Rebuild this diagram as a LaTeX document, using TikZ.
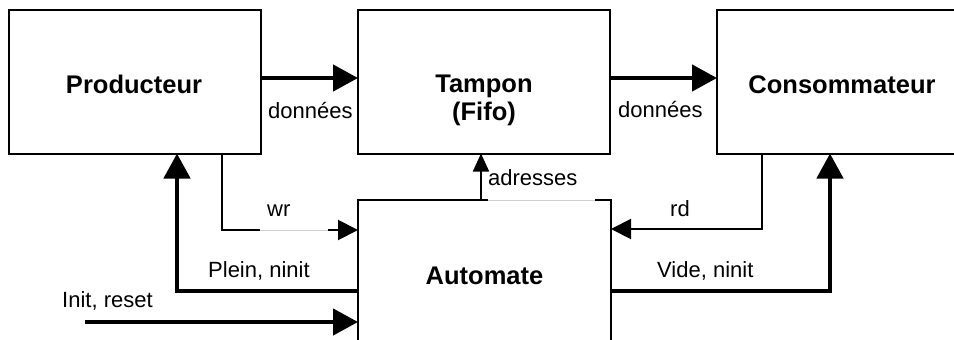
\documentclass[tikz,border=0pt]{standalone}
\usepackage{fontspec}
\setmainfont{Liberation Sans}
\usetikzlibrary{arrows.meta,calc}
\begin{document}
\begin{tikzpicture}[x=1pt,y=-1pt,
  box/.style={draw,line width=2pt,rectangle,inner sep=0pt,outer sep=0pt},
  title/.style={font=\fontsize{25.5}{28}\selectfont\bfseries,inner sep=0pt,anchor=base},
  lbl/.style={font=\fontsize{22}{24}\selectfont,inner sep=0pt,anchor=base west},
  smallarrow/.style={line width=2pt,-{Triangle[length=20pt,width=20pt]}},
  adrarrow/.style={line width=1.8pt,-{Triangle[length=18pt,width=16pt]}},
  bigarrow/.style={line width=4.5pt,-{Triangle[length=25pt,width=26pt]}},
  faded/.style={black!18,line width=1pt},
]
\useasboundingbox (0,0) rectangle (954,340);
\clip (0,0) rectangle (954,340);

% blocks
\node[box,minimum width=252pt,minimum height=144pt] (prod) at (135,81.5) {};
\node[box,minimum width=252pt,minimum height=144pt] (tamp) at (484,81.5) {};
\node[box,minimum width=283pt,minimum height=144pt] (cons) at (858.5,81.5) {};
\node[box,minimum width=253pt,minimum height=180pt] (auto) at (484.5,290) {};

% block titles
\node[title] (prodtxt) at (134,93) {Producteur};
\node[title] (tamptxt) at (484,92.5) {Tampon};
\node[title] (fifotxt) at (484,120) {(Fifo)};
\node[title] (constxt) at (842,93) {Consommateur};
\node[title] (autotxt) at (484.5,284) {Automate};

% data path
\draw[bigarrow] (prod.east |- 0,78) -- (tamp.west |- 0,78);
\draw[bigarrow] (tamp.east |- 0,78) -- (cons.west |- 0,78);

% control signals
\draw[smallarrow] (prod.south -| 222,0) |- (auto.west |- 0,230);
\draw[bigarrow] (auto.west |- 0,291) -| (prod.south -| 177,0);
\coordinate (initsrc) at (85,322);
\draw[bigarrow] (initsrc) -- (auto.west |- 0,322);
\draw[adrarrow] (auto.north -| 481,0) -- (tamp.south -| 481,0);
\draw[smallarrow] (cons.south -| 762,0) |- (auto.east |- 0,229);
\draw[bigarrow] (auto.east |- 0,291) -| (cons.south -| 830,0);

% faded stretches behind the labels
\draw[white,line width=3pt] (260,230) -- (328,230);
\draw[faded] (260,230) -- (328,230);
\draw[white,line width=3pt] (488,200) -- (595,200);
\draw[faded] (488,200) -- (595,200);

% signal labels
\node[lbl] (l1) at (268,118) {données};
\node[lbl] (l2) at (618,117) {données};
\node[lbl] (l3) at (267,216) {wr};
\node[lbl] (l4) at (670,216) {rd};
\node[lbl] (l5) at (488,185) {adresses};
\node[lbl] (l6) at (208,277) {Plein, ninit};
\node[lbl] (l7) at (657,277) {Vide, ninit};
\node[lbl] (l8) at (62,307) {Init, reset};
\end{tikzpicture}
\end{document}
